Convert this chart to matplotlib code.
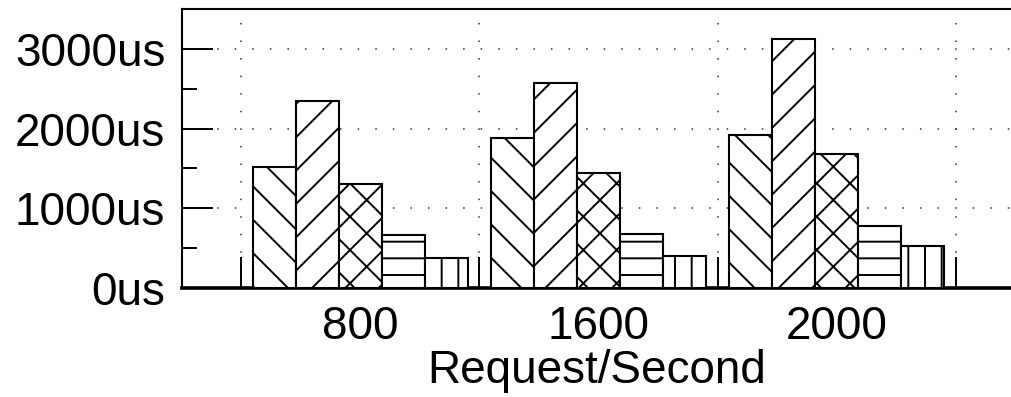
import matplotlib
matplotlib.use("Agg")
import matplotlib.pyplot as plt
from matplotlib.ticker import FixedLocator, FuncFormatter, MultipleLocator

# ── Data ─────────────────────────────────────────────────────────────────────
groups = ["800", "1600", "2000"]
series_1 = [1516, 1880, 1922]
series_2 = [2352, 2570, 3127]
series_3 = [1307, 1437, 1684]
series_4 = [668, 680, 772]
series_5 = [380, 404, 533]

all_series = [series_1, series_2, series_3, series_4, series_5]
hatches = ["\\", "/", "x", "-", "|"]

plt.rcParams["font.family"] = ["Liberation Sans", "DejaVu Sans"]
plt.rcParams["hatch.linewidth"] = 1.4
plt.rcParams["hatch.color"] = "black"

fig = plt.figure(figsize=(10.12, 3.97), dpi=100)
ax = fig.add_axes([182 / 1012, 109 / 397, 830 / 1012, 279 / 397])

width = 0.1805
centers = list(range(len(groups)))
for k, (vals, h) in enumerate(zip(all_series, hatches)):
    xs = [c + (k - 2) * width for c in centers]
    ax.bar(xs, vals, width=width, facecolor="white", edgecolor="black",
           linewidth=1.5, hatch=h, zorder=3)

ax.set_xlim(-0.748, 2.735)
ax.set_ylim(0, 3500)

# group boundaries carry ticks + grid, centres carry the labels
bounds = [c - 0.5 for c in centers] + [centers[-1] + 0.5]
ax.xaxis.set_major_locator(FixedLocator(bounds))
ax.xaxis.set_minor_locator(FixedLocator(centers))
ax.xaxis.set_major_formatter(FuncFormatter(lambda v, _: ""))
ax.xaxis.set_minor_formatter(FuncFormatter(lambda v, _: groups[int(round(v))]))
ax.tick_params(axis="x", which="major", direction="in", length=22, width=1.4,
               top=False)
ax.tick_params(axis="x", which="minor", length=0, labelsize=33, pad=12)

ax.yaxis.set_major_locator(MultipleLocator(1000))
ax.yaxis.set_minor_locator(MultipleLocator(500))
ax.yaxis.set_major_formatter(FuncFormatter(lambda v, _: f"{int(v)}us"))
ax.tick_params(axis="y", which="major", direction="in", length=22, width=1.4,
               labelsize=33, pad=12, right=False)
ax.tick_params(axis="y", which="minor", direction="in", length=11, width=1.4,
               right=False)

ax.grid(True, which="major", color="#333333", linewidth=1.1,
        linestyle=(0, (1.0, 10.5)), zorder=0)
ax.set_axisbelow(True)

ax.spines["right"].set_visible(False)
for s in ("left", "top"):
    ax.spines[s].set_linewidth(1.5)
ax.spines["bottom"].set_linewidth(2.6)

ax.set_xlabel("Request/Second", fontsize=33, labelpad=0)

fig.savefig("out.png", dpi=100)
